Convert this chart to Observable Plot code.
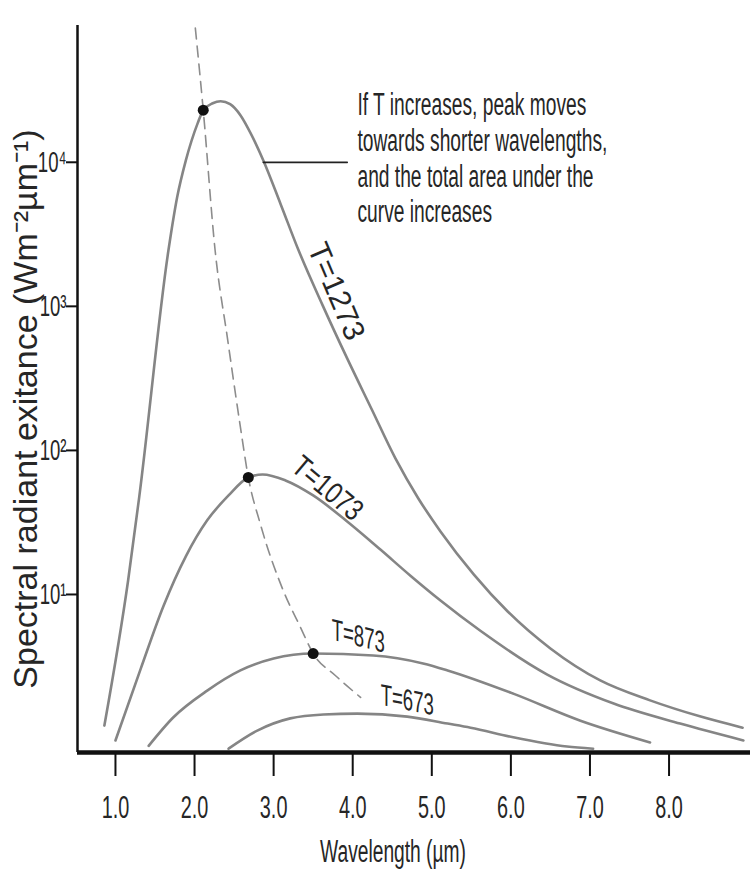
<!DOCTYPE html>
<html><head><meta charset="utf-8">
<script src="https://cdn.jsdelivr.net/npm/d3@7"></script>
<script src="https://cdn.jsdelivr.net/npm/@observablehq/plot@0.6"></script>
<style>body{margin:0;background:#fff}</style>
</head><body><div id="chart"></div>
<script>
// Curve values (wavelength in µm, exitance in W m-2 µm-1, log axis)
const wl1273 = [0.86,1.16,1.30,1.67,1.78,1.89,2.04,2.11,2.23,2.33,2.45,2.58,2.67,2.87,3.09,3.31,3.62,3.93,4.24,4.54,4.83,5.11,5.53,5.96,6.50,7.13,7.76,8.40,8.93];
const ex1273 = [1.23,12.5,47.2,2450,5710,10300,18700,23000,25700,26500,25300,21200,17500,10300,5100,2490,1016,435,193,88,46.4,27.4,13.8,7.62,4.22,2.53,1.84,1.42,1.19];
const wl1073 = [1.00,1.32,1.61,1.89,2.16,2.43,2.68,2.86,3.15,3.50,3.93,4.35,4.73,5.11,5.61,6.46,7.30,8.14,8.94];
const ex1073 = [0.97,3.06,8.39,18.4,32.7,48.7,64.9,68.1,61.9,48.7,32.1,20.5,13.5,9.08,5.62,2.78,1.75,1.27,0.97];
const wl873 = [1.42,1.73,2.16,2.58,3.00,3.50,4.26,4.89,5.20,6.03,6.88,7.76];
const ex873 = [0.89,1.40,2.15,2.97,3.59,3.89,3.77,3.32,2.97,2.05,1.33,0.94];
const wl673 = [2.43,2.80,3.21,3.63,4.06,4.69,5.20,5.49,6.03,6.71,7.04];
const ex673 = [0.85,1.14,1.38,1.47,1.49,1.42,1.27,1.19,1.02,0.88,0.85];
const wlWien = [2.01,2.11,2.26,2.42,2.58,2.68,2.83,3.12,3.34,3.50,3.78,4.10];
const exWien = [85300,23000,2450,581,145,64.9,31.1,10.7,5.91,3.89,2.74,1.93];
const peakWl = [2.11,2.68,3.50];
const peakEx = [23000,64.9,3.89];
const curveLabels = ["T=1273","T=1073","T=873","T=673"];
const labelWl = [3.79,3.68,4.07,4.69];
const labelEx = [1270,54.5,5.11,1.84];
const labelAngle = [67,40,0,0];   // rotated labels
const labelSlant = [0,0,14,11];   // labels with upright glyphs on a sloping baseline
const noteText = "If T increases, peak moves\ntowards shorter wavelengths,\nand the total area under the\ncurve increases";
const noteWl = 4.06, noteEx = 10800;
const leaderWl = [2.87,3.93], leaderEx = 10000;
const xTicks = [1,2,3,4,5,6,7,8];
const yTicks = [10,100,1000,10000];
const yTickLabels = ["10\u00b9","10\u00b2","10\u00b3","10\u2074"];
const xLabel = "Wavelength (\u00b5m)";
const yLabel = "Spectral radiant exitance (Wm\u207b\u00b2\u00b5m\u207b\u00b9)";
const xDomain = [0.52, 9.03];
const yDomain = [0.8, 89000];

const series = [[wl1273,ex1273],[wl1073,ex1073],[wl873,ex873],[wl673,ex673]];
const curveRows = series.flatMap(([w,e],k) => w.map((v,i) => ({k, wl: v, ex: e[i]})));
const wienRows = wlWien.map((v,i) => ({wl: v, ex: exWien[i]}));
const peakRows = peakWl.map((v,i) => ({wl: v, ex: peakEx[i]}));
const labelRows = curveLabels.map((t,i) => ({t, wl: labelWl[i], ex: labelEx[i], a: labelAngle[i]}));
const leaderRows = leaderWl.map(v => ({wl: v, ex: leaderEx}));

const svg = Plot.plot({
  width: 750, height: 871,
  marginLeft: 77, marginRight: 0, marginTop: 25, marginBottom: 119,
  style: {fontFamily: "'Liberation Sans', Arial, sans-serif", fontSize: "31px", color: "#262626", background: "#fff"},
  x: {domain: xDomain},
  y: {type: "log", domain: yDomain},
  marks: [
    Plot.axisX({ticks: xTicks, tickFormat: d3.format(".1f"), tickSize: 24, tickPadding: 19, fontSize: 32, label: null, stroke: "#111", strokeWidth: 2}),
    Plot.axisY({ticks: yTicks, tickFormat: d => yTickLabels[yTicks.indexOf(d)], tickSize: 11, tickPadding: 0, fontSize: 30, label: null, stroke: "#111", strokeWidth: 2}),
    Plot.line(curveRows, {x: "wl", y: "ex", z: "k", stroke: "#858585", strokeWidth: 2.6, curve: "monotone-x"}),
    Plot.line(wienRows, {x: "wl", y: "ex", stroke: "#8c8c8c", strokeWidth: 1.6, strokeDasharray: "11,7", curve: "monotone-x"}),
    Plot.dot(peakRows, {x: "wl", y: "ex", r: 5.5, fill: "#111", stroke: "none"}),
    Plot.line(leaderRows, {x: "wl", y: "ex", stroke: "#222", strokeWidth: 1.8}),
    Plot.ruleX([xDomain[0]], {stroke: "#111", strokeWidth: 2.5}),
    Plot.ruleY([yDomain[0]], {stroke: "#111", strokeWidth: 4.5}),
    Plot.text(labelRows, {x: "wl", y: "ex", text: "t", rotate: "a", fontSize: 30, fill: "#262626"}),
    Plot.text([noteText], {x: () => noteWl, y: () => noteEx, text: d => d, textAnchor: "start", lineAnchor: "middle", lineHeight: 1.15, fontSize: 31, fill: "#262626"}),
    Plot.text([xLabel], {frameAnchor: "bottom", text: d => d, dx: -21, dy: 100, lineAnchor: "middle", fontSize: 31, fill: "#262626"}),
    Plot.text([yLabel], {frameAnchor: "left", text: d => d, dx: -51, dy: 20, rotate: -90, textAnchor: "middle", lineAnchor: "middle", fontSize: 34, fill: "#262626"})
  ]
});

// condensed lettering like the reference (scale along the reading direction only)
d3.select(svg).selectAll("text").each(function() {
  const t = this.textContent;
  let s = 0.62, extra = "";
  if (t.startsWith("Spectral")) s = 1;
  else if (t === "T=1273") s = 1;
  else if (t === "T=1073") s = 0.8;
  const li = curveLabels.indexOf(t);
  if (li >= 0 && labelSlant[li]) extra = ` skewY(${labelSlant[li]})`;
  const xa = this.getAttribute("x");
  let pre = "";
  if (xa !== null && isFinite(+xa) && +xa !== 0) { pre = ` translate(${+xa},0)`; this.setAttribute("x", 0); }
  const tr = this.getAttribute("transform") || "";
  this.setAttribute("transform", `${tr}${pre}${extra} scale(${s},1)`);
});
document.getElementById("chart").append(svg);
</script>
</body></html>
